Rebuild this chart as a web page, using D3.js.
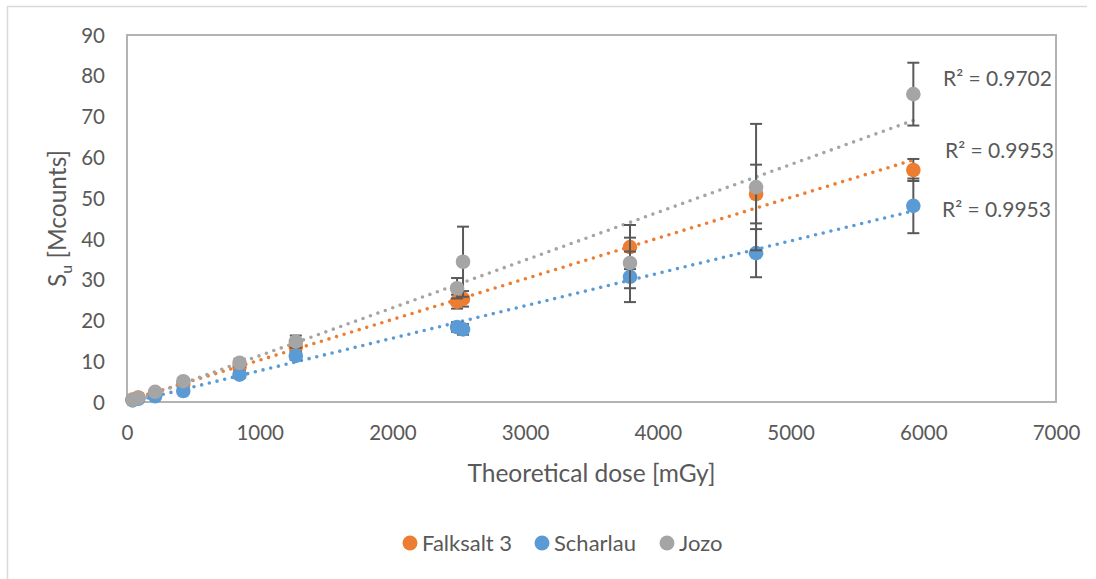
<!DOCTYPE html>
<html>
<head>
<meta charset="utf-8">
<script src="https://cdn.jsdelivr.net/npm/d3@7/dist/d3.min.js"></script>
<style>
  html, body { margin: 0; padding: 0; background: #ffffff; }
  svg { display: block; }
  text { font-family: Lato, "Open Sans", sans-serif; fill: #595959; }
</style>
</head>
<body>
<svg id="chart" width="1096" height="579"></svg>
<script>
// Theoretical dose of each irradiation step [mGy]
const doses = [42, 85, 212, 424, 848, 1272, 2487, 2532, 3790, 4740, 5925];

// Measured signal S_u [Mcounts] per salt
const falksalt = [0.6, 1.1, 2.2, 4.4, 8.6, 13.5, 24.6, 25.3, 38.0, 51.0, 56.9];
const scharlau = [0.4, 0.8, 1.4, 2.7, 6.7, 11.3, 18.4, 17.8, 30.7, 36.5, 48.1];
const jozo     = [0.5, 1.0, 2.5, 5.1, 9.6, 14.8, 27.9, 34.4, 34.1, 52.7, 75.5];

// Error bar half-widths (± standard deviation)
const falksaltErr = [0.2, 0.3, 0.4, 0.6, 0.9, 1.2, 1.7, 1.9, 5.4, 7.2, 2.7];
const scharlauErr = [0.2, 0.3, 0.4, 0.5, 0.8, 1.0, 1.2, 1.3, 6.2, 5.9, 6.7];
const jozoErr     = [0.2, 0.3, 0.5, 0.7, 1.0, 1.5, 2.5, 8.6, 6.2, 15.5, 7.7];

// Coefficients of determination printed next to each trendline
const r2Labels = ["R² = 0.9953", "R² = 0.9953", "R² = 0.9702"];

const seriesNames = ["Falksalt 3", "Scharlau", "Jozo"];
const seriesColors = ["#ED7D31", "#5B9BD5", "#A5A5A5"];

const xTicks = [0, 1000, 2000, 3000, 4000, 5000, 6000, 7000];
const yTicks = [0, 10, 20, 30, 40, 50, 60, 70, 80, 90];

const series = [
  { name: seriesNames[0], color: seriesColors[0], values: falksalt, err: falksaltErr, r2: r2Labels[0], labelPos: [945, 151] },
  { name: seriesNames[1], color: seriesColors[1], values: scharlau, err: scharlauErr, r2: r2Labels[1], labelPos: [942, 210] },
  { name: seriesNames[2], color: seriesColors[2], values: jozo,     err: jozoErr,     r2: r2Labels[2], labelPos: [943, 79] }
];

const svg = d3.select("#chart");

// Outer chart frame (top and left edges)
svg.append("path")
  .attr("d", "M7.5,590 L7.5,6.5 L1087,6.5")
  .attr("fill", "none")
  .attr("stroke", "#D9D9D9")
  .attr("stroke-width", 1.5);

const plot = { left: 127, right: 1056, top: 35, bottom: 402 };

const x = d3.scaleLinear().domain([0, 7000]).range([plot.left, plot.right]);
const y = d3.scaleLinear().domain([0, 90]).range([plot.bottom, plot.top]);

// Plot area border
svg.append("rect")
  .attr("x", plot.left).attr("y", plot.top)
  .attr("width", plot.right - plot.left).attr("height", plot.bottom - plot.top)
  .attr("fill", "none")
  .attr("stroke", "#B3B3B3")
  .attr("stroke-width", 2);

// Axes: labels only, no tick marks
const xAxis = d3.axisBottom(x).tickValues(xTicks).tickSize(0).tickPadding(0).tickFormat(d3.format("d"));
const yAxis = d3.axisLeft(y).tickValues(yTicks).tickSize(0).tickPadding(0).tickFormat(d3.format("d"));

const gx = svg.append("g").attr("transform", `translate(0,${plot.bottom})`).call(xAxis);
gx.select(".domain").remove();
gx.selectAll("text")
  .attr("dy", null).attr("y", 38)
  .style("font-size", "20.5px").style("font-family", "Lato, sans-serif").attr("fill", "#595959");

const gy = svg.append("g").attr("transform", `translate(105,0)`).call(yAxis);
gy.select(".domain").remove();
gy.selectAll("text")
  .attr("x", 0).attr("dy", "0.35em")
  .style("font-size", "20.5px").style("font-family", "Lato, sans-serif").attr("fill", "#595959");

// Axis titles
svg.append("text")
  .attr("x", (plot.left + plot.right) / 2)
  .attr("y", 482)
  .attr("text-anchor", "middle")
  .style("font-size", "24.5px")
  .text("Theoretical dose [mGy]");

const yTitle = svg.append("text")
  .attr("transform", `translate(66,${(plot.top + plot.bottom) / 2}) rotate(-90)`)
  .attr("text-anchor", "middle")
  .style("font-size", "24.5px");
yTitle.append("tspan").text("S");
yTitle.append("tspan").attr("dy", 6).style("font-size", "16px").text("u");
yTitle.append("tspan").attr("dy", -6).text(" [Mcounts]");

// Linear least-squares trendline for each series
function linearFit(xs, ys) {
  const mx = d3.mean(xs), my = d3.mean(ys);
  let sxy = 0, sxx = 0;
  xs.forEach((xi, i) => { sxy += (xi - mx) * (ys[i] - my); sxx += (xi - mx) * (xi - mx); });
  const slope = sxy / sxx;
  return { slope, intercept: my - slope * mx };
}

const line = d3.line().x(d => x(d[0])).y(d => y(d[1]));
const xMin = d3.min(doses), xMax = d3.max(doses);

series.forEach(s => {
  const fit = linearFit(doses, s.values);
  svg.append("path")
    .datum([[xMin, fit.intercept + fit.slope * xMin], [xMax, fit.intercept + fit.slope * xMax]])
    .attr("d", line)
    .attr("fill", "none")
    .attr("stroke", s.color)
    .attr("stroke-width", 3.6)
    .attr("stroke-linecap", "round")
    .attr("stroke-dasharray", "0 7.9");
});

// Error bars and markers, drawn series by series
series.forEach(s => {
  const g = svg.append("g");
  const pts = doses.map((d, i) => ({ x: d, v: s.values[i], e: s.err[i] }));
  const eb = g.selectAll("g.eb").data(pts).join("g").attr("class", "eb");
  eb.append("line")
    .attr("x1", d => x(d.x)).attr("x2", d => x(d.x))
    .attr("y1", d => y(d.v + d.e)).attr("y2", d => y(d.v - d.e))
    .attr("stroke", "#595959").attr("stroke-width", 2);
  eb.append("line")
    .attr("x1", d => x(d.x) - 6).attr("x2", d => x(d.x) + 6)
    .attr("y1", d => y(d.v + d.e)).attr("y2", d => y(d.v + d.e))
    .attr("stroke", "#595959").attr("stroke-width", 2);
  eb.append("line")
    .attr("x1", d => x(d.x) - 6).attr("x2", d => x(d.x) + 6)
    .attr("y1", d => y(d.v - d.e)).attr("y2", d => y(d.v - d.e))
    .attr("stroke", "#595959").attr("stroke-width", 2);
  g.selectAll("circle").data(pts).join("circle")
    .attr("cx", d => x(d.x)).attr("cy", d => y(d.v))
    .attr("r", 7.3)
    .attr("fill", s.color);
});

// R² annotations
series.forEach(s => {
  svg.append("text")
    .attr("x", s.labelPos[0]).attr("y", s.labelPos[1])
    .attr("dy", "0.35em")
    .style("font-size", "21px")
    .text(s.r2);
});

// Legend
const legendItems = [
  { name: seriesNames[0], color: seriesColors[0], cx: 410 },
  { name: seriesNames[1], color: seriesColors[1], cx: 542 },
  { name: seriesNames[2], color: seriesColors[2], cx: 667 }
];
const lg = svg.append("g");
legendItems.forEach(it => {
  lg.append("circle").attr("cx", it.cx).attr("cy", 543).attr("r", 7.5).attr("fill", it.color);
  lg.append("text").attr("x", it.cx + 12).attr("y", 543).attr("dy", "0.35em")
    .style("font-size", "22px").text(it.name);
});
</script>
</body>
</html>
